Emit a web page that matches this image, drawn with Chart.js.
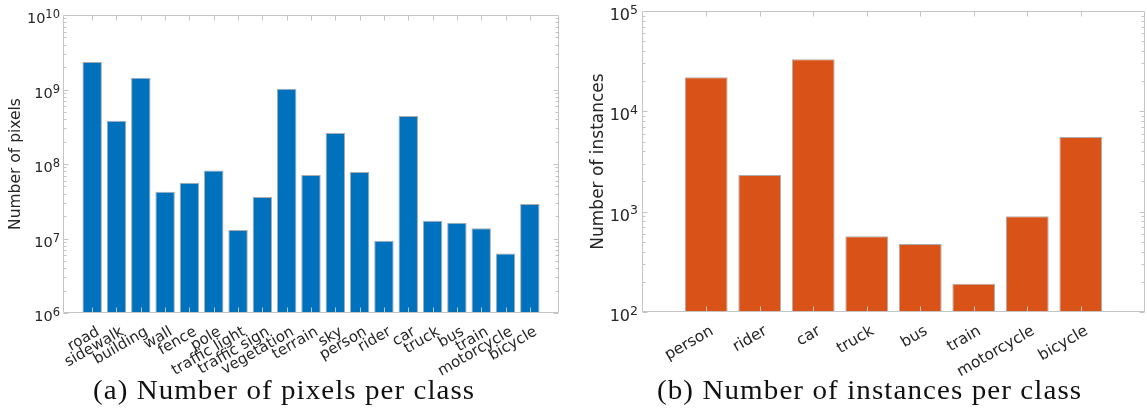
<!DOCTYPE html>
<html>
<head>
<meta charset="utf-8">
<script src="https://cdn.jsdelivr.net/npm/chart.js@4/dist/chart.umd.min.js"></script>
<style>
  body { margin: 0; width: 1147px; height: 417px; background: #fff; position: relative; overflow: hidden; }
  canvas { position: absolute; top: 0; }
  #pixels { left: 0; }
  #instances { left: 575px; }
  .cap { position: absolute; top: 377px; line-height: 27px; font-family: "Liberation Serif", serif; font-size: 27px;
         letter-spacing: 1px; color: #111; white-space: nowrap; transform-origin: 0 0; }
</style>
</head>
<body>
<canvas id="pixels" width="575" height="385"></canvas>
<canvas id="instances" width="572" height="385"></canvas>
<div class="cap" id="capA" data-cx="284" data-w="382">(a) Number of pixels per class</div>
<div class="cap" id="capB" data-cx="869.5" data-w="425">(b) Number of instances per class</div>
<script>
const pixelClasses = ['road', 'sidewalk', 'building', 'wall', 'fence', 'pole', 'traffic light', 'traffic sign',
  'vegetation', 'terrain', 'sky', 'person', 'rider', 'car', 'truck', 'bus', 'train', 'motorcycle', 'bicycle'];
const pixelCounts = [2.34e9, 3.8e8, 1.44e9, 4.25e7, 5.6e7, 8.2e7, 1.3e7, 3.6e7,
  1.02e9, 7.1e7, 2.6e8, 7.8e7, 9.3e6, 4.4e8, 1.73e7, 1.63e7, 1.37e7, 6.3e6, 2.9e7];
const pixelTicks = [1e6, 1e7, 1e8, 1e9, 1e10];

const instanceClasses = ['person', 'rider', 'car', 'truck', 'bus', 'train', 'motorcycle', 'bicycle'];
const instanceCounts = [21800, 2320, 33000, 570, 475, 191, 900, 5550];
const instanceTicks = [1e2, 1e3, 1e4, 1e5];

const AXIS = '#c4c4c4';
const TEXT = '#262626';
const FONT = 'DejaVu Sans';

// matlab style box, inward ticks and 10^n labels
const boxTicks = {
  id: 'boxTicks',
  afterDatasetsDraw(chart) {
    const { ctx, chartArea: a, scales: { x, y } } = chart;
    const g = chart.options.plugins.boxTicks;
    const l = Math.round(a.left) + 0.5, r = Math.round(a.right) - 0.5;
    const t = Math.round(a.top) + 0.5, b = Math.round(a.bottom) - 0.5;
    ctx.save();
    ctx.strokeStyle = AXIS;
    ctx.lineWidth = 1;
    ctx.beginPath();
    ctx.rect(l, t, r - l, b - t);
    x.ticks.forEach(tk => {
      const px = Math.round(x.getPixelForValue(tk.value)) + 0.5;
      ctx.moveTo(px, b); ctx.lineTo(px, b - 5);
      ctx.moveTo(px, t); ctx.lineTo(px, t + 5);
    });
    const lo = Math.round(Math.log10(y.min)), hi = Math.round(Math.log10(y.max));
    for (let e = lo; e < hi; e++) {
      for (let m = 1; m < 10; m++) {
        const py = Math.round(y.getPixelForValue(m * Math.pow(10, e))) + 0.5;
        const len = m === 1 ? 5 : 3;
        ctx.moveTo(l, py); ctx.lineTo(l + len, py);
        ctx.moveTo(r, py); ctx.lineTo(r - len, py);
      }
    }
    ctx.stroke();

    // y tick labels as 10 with raised exponent
    ctx.fillStyle = TEXT;
    ctx.textBaseline = 'alphabetic';
    ctx.textAlign = 'right';
    y.ticks.forEach(tk => {
      const py = y.getPixelForValue(tk.value);
      const exp = String(Math.round(Math.log10(tk.value)));
      const right = a.left - g.gap;
      ctx.font = g.sup + 'px "' + FONT + '"';
      const ew = ctx.measureText(exp).width;
      ctx.fillText(exp, right, py + g.supDy);
      ctx.font = g.base + 'px "' + FONT + '"';
      ctx.fillText('10', right - ew, py + g.baseDy);
    });
    ctx.restore();
  }
};

function barChart(id, labels, values, ticks, color, yTitle, g) {
  return new Chart(document.getElementById(id), {
    type: 'bar',
    data: {
      datasets: [{
        data: values.map((v, i) => ({ x: i, y: v })),
        backgroundColor: color,
        borderColor: 'rgba(70,70,70,0.45)',
        borderWidth: 1,
        barPercentage: 0.8,
        categoryPercentage: 1
      }]
    },
    options: {
      responsive: false,
      animation: false,
      layout: { padding: { top: g.top, right: g.right, left: 0, bottom: 0 } },
      plugins: { legend: { display: false }, tooltip: { enabled: false }, boxTicks: g },
      scales: {
        x: {
          type: 'linear',
          offset: false,
          min: -1.2,
          max: labels.length - 1 + 1.2,
          afterBuildTicks: s => { s.ticks = labels.map((_, i) => ({ value: i })); },
          afterFit: s => { s.height = g.xh; },
          grid: { display: false, drawTicks: false, offset: false },
          border: { display: false },
          ticks: {
            autoSkip: false, minRotation: 30, maxRotation: 30, padding: 10, labelOffset: 6,
            color: TEXT, font: { family: FONT, size: g.xf },
            callback: v => labels[v]
          }
        },
        y: {
          type: 'logarithmic',
          min: ticks[0],
          max: ticks[ticks.length - 1],
          afterBuildTicks: s => { s.ticks = ticks.map(v => ({ value: v })); },
          afterFit: s => { s.width = g.yw; },
          grid: { display: false, drawTicks: false },
          border: { display: false },
          ticks: { display: false },
          title: {
            display: true, text: yTitle, color: TEXT,
            font: { family: FONT, size: g.tf }, padding: { top: g.tp, bottom: 0 }
          }
        }
      }
    },
    plugins: [boxTicks]
  });
}

barChart('pixels', pixelClasses, pixelCounts, pixelTicks, '#0072BD', 'Number of pixels',
  { top: 15, right: 16, xh: 72, yw: 63, xf: 15, tf: 15.5, tp: 7, base: 14.5, sup: 11.5, baseDy: 8, supDy: 3, gap: 3 });
barChart('instances', instanceClasses, instanceCounts, instanceTicks, '#D95319', 'Number of instances',
  { top: 11, right: 2, xh: 73, yw: 67, xf: 15.5, tf: 17, tp: 13, base: 16, sup: 12.5, baseDy: 9, supDy: 2.5, gap: 4 });

// fit captions to the reference widths
document.querySelectorAll('.cap').forEach(el => {
  const w = el.offsetWidth;
  const target = +el.dataset.w;
  el.style.left = (+el.dataset.cx - target / 2) + 'px';
  el.style.transform = 'scaleX(' + (target / w).toFixed(3) + ')';
});
</script>
</body>
</html>
